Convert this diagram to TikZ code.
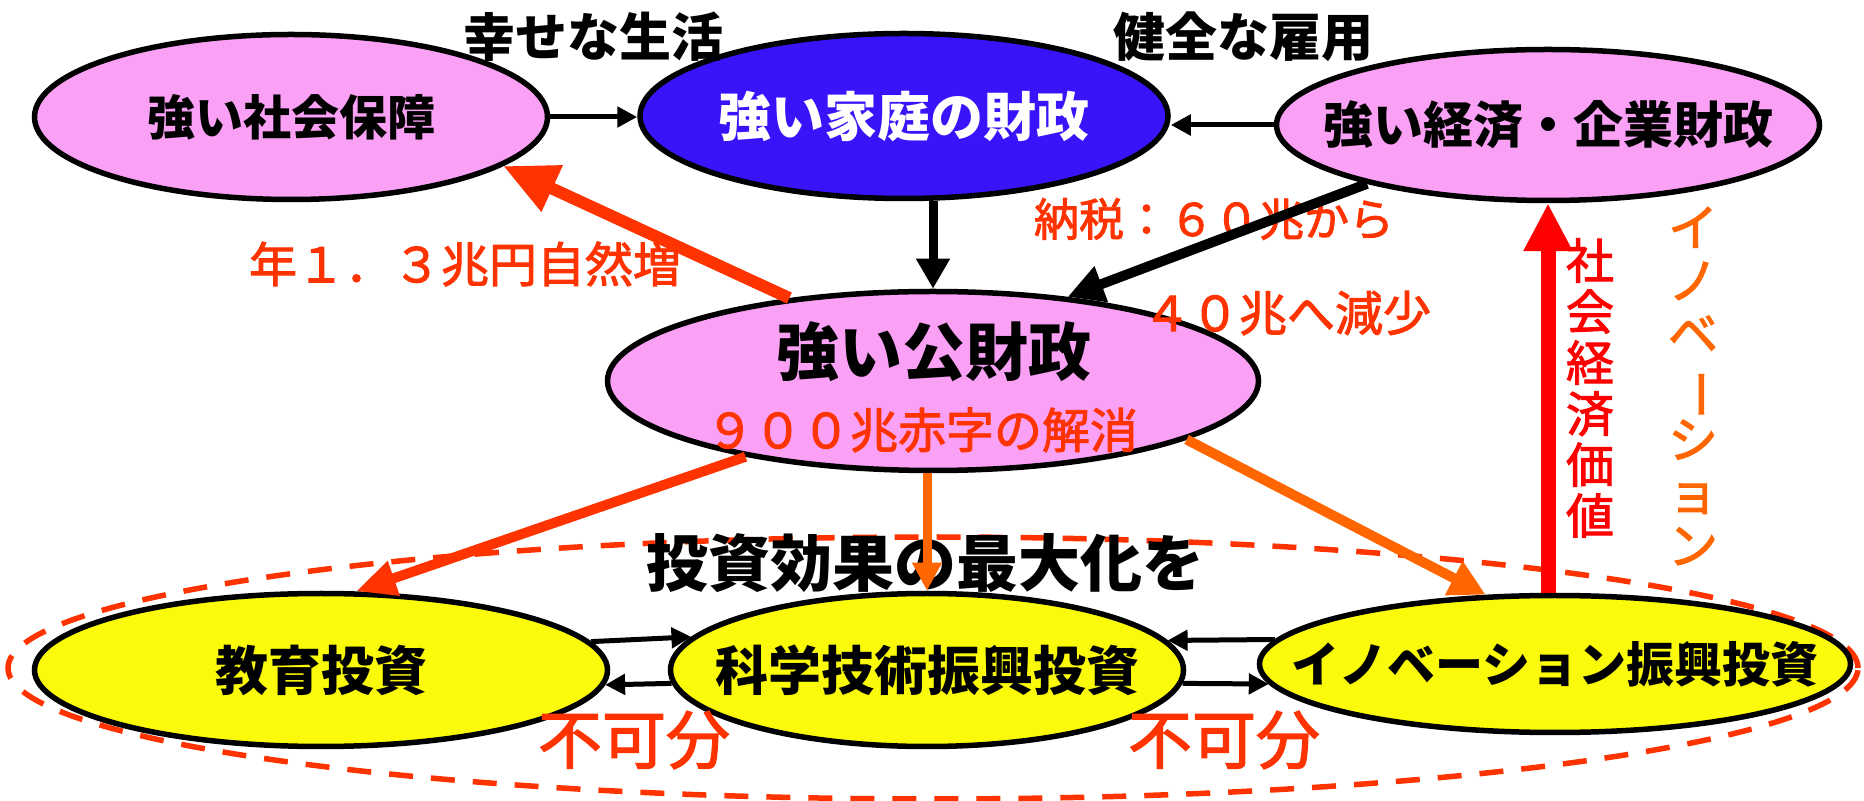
\documentclass[tikz,border=0pt]{standalone}
\usepackage{fontspec}
\setmainfont{Noto Sans CJK JP}
\newfontfamily\medfont{Noto Sans CJK JP}[FakeBold=2]
\usetikzlibrary{arrows.meta,shapes.geometric}
\definecolor{pinkf}{RGB}{250,160,245}
\definecolor{bluef}{RGB}{55,20,250}
\definecolor{yellowf}{RGB}{250,250,10}
\definecolor{redor}{RGB}{255,51,0}
\definecolor{orng}{RGB}{255,102,0}
\definecolor{redv}{RGB}{255,0,0}
\newcommand{\fsz}[1]{\fontsize{#1}{1.15\dimexpr#1\relax}\selectfont}
\begin{document}
\begin{tikzpicture}[x=0.5pt,y=-0.5pt,
  ell/.style={ellipse,draw=black,line width=2.75pt,inner sep=0pt},
  blk/.style={font={\bfseries\fsz{#1}},text=black,inner sep=0pt},
  rtx/.style={font={\medfont\fsz{#1}},text=redor,inner sep=0pt},
  thin/.style={draw=black,line width=2.5pt,-{Triangle[length=10pt,width=10pt]}}
]
\useasboundingbox (0,0) rectangle (1864,801);

% group ellipse
\node[ellipse,draw=redor,line width=2.75pt,dash pattern=on 12pt off 9pt,inner sep=0pt,
  minimum width=925pt,minimum height=131pt] (grp) at (933,668) {};

% main ellipses
\node[ell,fill=pinkf,minimum width=256.5pt,minimum height=82.5pt,
  label={[blk=24pt]center:強い社会保障}] (soc) at (291,117) {};
\node[ell,fill=bluef,minimum width=264pt,minimum height=82.5pt,
  label={[blk=26.5pt,text=white]center:強い家庭の財政}] (fam) at (904,116) {};
\node[ell,fill=pinkf,minimum width=271.5pt,minimum height=75.5pt,
  label={[blk=25pt]center:強い経済・企業財政}] (eco) at (1548,125) {};
\node[ell,fill=pinkf,minimum width=325.5pt,minimum height=89.5pt] (pub) at (933,381) {};
\node[ell,fill=yellowf,minimum width=286.5pt,minimum height=76.5pt,
  label={[blk=26.5pt]center:教育投資}] (edu) at (321,670) {};
\node[ell,fill=yellowf,minimum width=256.5pt,minimum height=76.5pt,
  label={[blk=26.5pt]center:科学技術振興投資}] (sci) at (927,670) {};
\node[ell,fill=yellowf,minimum width=295.5pt,minimum height=68.5pt,
  label={[blk=24pt]center:イノベーション振興投資}] (inn) at (1555,664) {};

% texts in public finance
\node[blk=31.5pt] (pubt) at (934,352) {強い公財政};
\node[rtx=24pt] (pubd) at (922,430) {９００兆赤字の解消};

% labels
\node[blk=26pt] (happy) at (593,37) {幸せな生活};
\node[blk=26pt] (employ) at (1243,37) {健全な雇用};
\node[rtx=24pt] (incr) at (465,264) {年１．３兆円自然増};
\node[rtx=22.5pt] (tax1) at (1214,219) {納税：６０兆から};
\node[rtx=24pt] (tax2) at (1287,313) {４０兆へ減少};
\node[blk=31pt] (maxi) at (925,563) {投資効果の最大化を};
\node[rtx=32pt] (ins1) at (634,740) {不可分};
\node[rtx=32pt] (ins2) at (1224,740) {不可分};
\node[text=redv,align=center,inner sep=0pt,font={\medfont\fontsize{24pt}{25.5pt}\selectfont}] (sev) at (1590,388) {社\\会\\経\\済\\価\\値};
\node[text=orng,align=center,inner sep=0pt,font={\medfont\fontsize{25pt}{26.5pt}\selectfont}] (innv) at (1693,386) {イ\\ノ\\ベ\\\rotatebox[origin=c]{-90}{ー}\\シ\\ョ\\ン};

% thin black arrows
\draw[thin] (soc.east) -- (soc.east -| fam.west);
\draw[thin] (eco.west) -- (eco.west -| fam.east);
\draw[thin] (edu.6.9) -- (sci.172.2);
\draw[thin] (sci.183.3) -- (edu.-3.0);
\draw[thin] (inn.175.1) -- (sci.7.8);
\draw[thin] (sci.-3.2) -- (inn.184.5);

% thick arrows
\draw[black,line width=4.5pt,-{Triangle[length=15pt,width=16pt]}] (fam.south -| pub.north) -- (pub.north);
\draw[black,line width=5pt,-{Triangle[length=18pt,width=18pt]}] (eco.198) -- (pub.32);
\draw[redor,line width=6pt,-{Triangle[length=27pt,width=24pt]}] (pub.150) -- (soc.-13.4);
\draw[redor,line width=5pt,-{Triangle[length=20pt,width=17pt]}] (pub.202.6) -- (edu.66);
\draw[orng,line width=4.5pt,-{Triangle[length=14pt,width=14pt]}] (pub.south -| sci.north) -- (sci.north);
\draw[orng,line width=5pt,-{Triangle[length=18pt,width=18pt]}] (pub.-13.8) -- (inn.135.4);
\draw[redv,line width=7.5pt,-{Triangle[length=24pt,width=23pt]}] (inn.north -| eco.south) -- (eco.south);
\end{tikzpicture}
\end{document}
